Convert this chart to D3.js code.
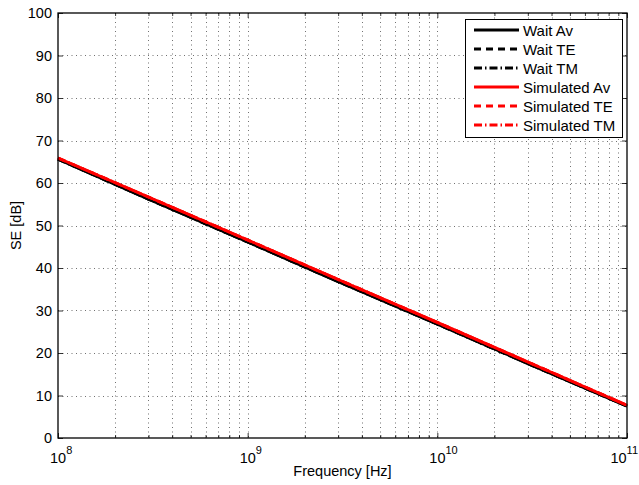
<!DOCTYPE html>
<html>
<head>
<meta charset="utf-8">
<script src="https://cdn.jsdelivr.net/npm/d3@7"></script>
<style>
  html, body { margin: 0; padding: 0; background: #fff; }
  svg { display: block; font-family: "Liberation Sans", Arial, Helvetica, sans-serif; }
</style>
</head>
<body>
<svg id="chart" width="639" height="485"></svg>
<script>
// Frequency sample points (Hz)
const freq = [1e8, 3e8, 1e9, 3e9, 1e10, 3e10, 1e11];

// Shielding effectiveness (dB) - analytical (Wait) and simulated
const waitAv = [65.6, 56.2, 46.1, 36.8, 26.8, 17.5, 7.5];
const waitTE = [65.6, 56.2, 46.1, 36.8, 26.8, 17.5, 7.5];
const waitTM = [65.6, 56.2, 46.1, 36.8, 26.8, 17.5, 7.5];
const simAv  = [65.9, 56.7, 46.6, 37.3, 27.2, 17.9, 7.7];
const simTE  = [65.9, 56.7, 46.6, 37.3, 27.2, 17.9, 7.7];
const simTM  = [65.9, 56.7, 46.6, 37.3, 27.2, 17.9, 7.7];

const seriesNames = ["Wait Av", "Wait TE", "Wait TM", "Simulated Av", "Simulated TE", "Simulated TM"];
const seriesValues = [waitAv, waitTE, waitTM, simAv, simTE, simTM];
const seriesColors = ["#000", "#000", "#000", "#f00", "#f00", "#f00"];
const seriesDash = [null, "7,5", "8,3,1.5,3", null, "7,5", "8,3,1.5,3"];

const yTicks = [0, 10, 20, 30, 40, 50, 60, 70, 80, 90, 100];
const xMajor = [1e8, 1e9, 1e10, 1e11];
const xExp = ["8", "9", "10", "11"];

const svg = d3.select("#chart");
const L = 58, R = 627, T = 13, B = 438;

const x = d3.scaleLog().domain([1e8, 1e11]).range([L, R]);
const y = d3.scaleLinear().domain([0, 100]).range([B, T]);

// minor frequency positions 2..9 per decade
const xMinor = [];
for (let e = 8; e < 11; e++) for (let k = 2; k <= 9; k++) xMinor.push(k * Math.pow(10, e));

const grid = svg.append("g").attr("stroke", "#333").attr("stroke-width", 0.7)
  .attr("stroke-dasharray", "1,3.5").attr("fill", "none");
grid.selectAll("line.gx").data(xMinor.concat(xMajor.slice(1, -1))).join("line")
  .attr("x1", d => Math.round(x(d)) + 0.5).attr("x2", d => Math.round(x(d)) + 0.5)
  .attr("y1", T).attr("y2", B);
grid.selectAll("line.gy").data(yTicks.slice(1, -1)).join("line")
  .attr("x1", L).attr("x2", R)
  .attr("y1", d => Math.round(y(d)) + 0.5).attr("y2", d => Math.round(y(d)) + 0.5);

// Data lines
const line = d3.line().x(d => x(d[0])).y(d => y(d[1]));
seriesValues.forEach((vals, i) => {
  svg.append("path")
    .datum(freq.map((f, j) => [f, vals[j]]))
    .attr("d", line)
    .attr("fill", "none")
    .attr("stroke", seriesColors[i])
    .attr("stroke-width", 2.8)
    .attr("stroke-dasharray", seriesDash[i]);
});

// Axes (box style with inward ticks)
const axisBottom = d3.axisBottom(x).tickValues(xMajor).tickSize(-5).tickFormat("");
const axisTop = d3.axisTop(x).tickValues(xMajor).tickSize(-5).tickFormat("");
const axisLeft = d3.axisLeft(y).tickValues(yTicks).tickSize(-5).tickFormat("");
const axisRight = d3.axisRight(y).tickValues(yTicks).tickSize(-5).tickFormat("");

function styleAxis(g) {
  g.select(".domain").remove();
  g.selectAll(".tick line").attr("stroke", "#000").attr("stroke-width", 0.8);
}
svg.append("g").attr("transform", `translate(0,${B})`).call(axisBottom).call(styleAxis);
svg.append("g").attr("transform", `translate(0,${T})`).call(axisTop).call(styleAxis);
svg.append("g").attr("transform", `translate(${L},0)`).call(axisLeft).call(styleAxis);
svg.append("g").attr("transform", `translate(${R},0)`).call(axisRight).call(styleAxis);

// Minor x ticks
const minorB = d3.axisBottom(x).tickValues(xMinor).tickSize(-3).tickFormat("");
const minorT = d3.axisTop(x).tickValues(xMinor).tickSize(-3).tickFormat("");
svg.append("g").attr("transform", `translate(0,${B})`).call(minorB).call(styleAxis);
svg.append("g").attr("transform", `translate(0,${T})`).call(minorT).call(styleAxis);

// Plot box
svg.append("rect").attr("x", L).attr("y", T).attr("width", R - L).attr("height", B - T)
  .attr("fill", "none").attr("stroke", "#000").attr("stroke-width", 1.3);

// Tick labels
svg.append("g").selectAll("text").data(yTicks).join("text")
  .attr("x", L - 6).attr("y", d => y(d) + 5)
  .attr("text-anchor", "end").attr("font-size", 14.5).attr("fill", "#000")
  .text(d => d);

// Decade labels: "10" centred on the tick, exponent raised; last one kept inside the page
xMajor.forEach((d, i) => {
  const t = svg.append("text").attr("y", 463).attr("font-size", 14.5).attr("fill", "#000");
  t.append("tspan").text("10");
  t.append("tspan").attr("dy", -9).attr("font-size", 11).text(xExp[i]);
  const w10 = 16;
  let x0 = x(d) - w10 / 2;
  const wAll = t.node().getComputedTextLength();
  if (x0 + wAll > 638) x0 = 638 - wAll;
  t.attr("x", x0);
});

// Axis titles
svg.append("text").attr("x", (L + R) / 2).attr("y", 476).attr("text-anchor", "middle")
  .attr("font-size", 14.5).attr("fill", "#000").text("Frequency [Hz]");
svg.append("text").attr("transform", `translate(21,${(T + B) / 2}) rotate(-90)`)
  .attr("text-anchor", "middle").attr("font-size", 14.5).attr("fill", "#000").text("SE [dB]");

// Legend
const lg = svg.append("g");
lg.append("rect").attr("x", 465.5).attr("y", 19.5).attr("width", 157).attr("height", 118)
  .attr("fill", "#fff").attr("stroke", "#000").attr("stroke-width", 1);
seriesNames.forEach((name, i) => {
  const yy = 30 + i * 19;
  lg.append("line").attr("x1", 474).attr("x2", 519).attr("y1", yy).attr("y2", yy)
    .attr("stroke", seriesColors[i]).attr("stroke-width", 2.8)
    .attr("stroke-dasharray", seriesDash[i]);
  lg.append("text").attr("x", 523).attr("y", yy + 5.5).attr("font-size", 15)
    .attr("fill", "#000").text(name);
});
</script>
</body>
</html>
